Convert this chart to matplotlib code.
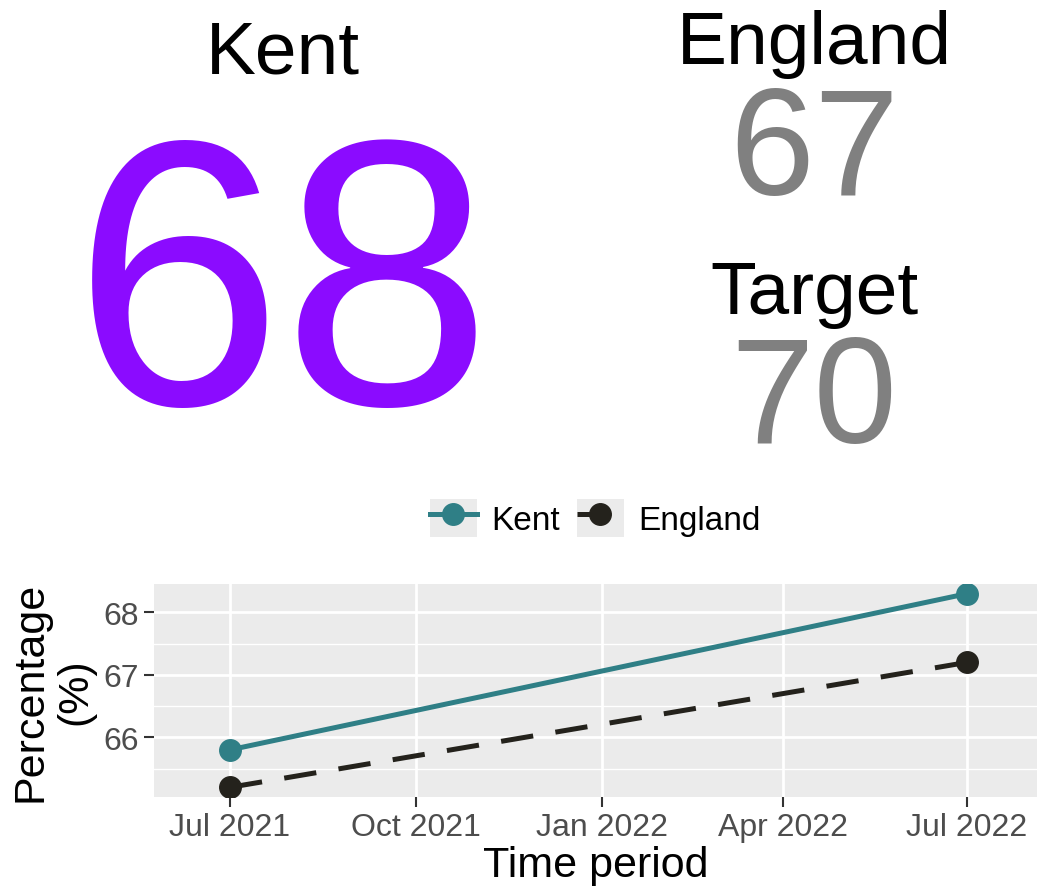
import datetime as dt
import matplotlib
matplotlib.use("Agg")
import matplotlib.dates as mdates
from matplotlib import pyplot as plt
from matplotlib.legend_handler import HandlerTuple
from matplotlib.patches import Rectangle
from matplotlib.ticker import MultipleLocator

plt.rcParams['font.family'] = ['Liberation Sans', 'DejaVu Sans']

# headline values
area_name = "Kent"
area_value = 68
england_value = 67
target_value = 70

# trend data
periods = [dt.date(2021, 7, 1), dt.date(2022, 7, 1)]
kent_pct = [65.8, 68.3]
england_pct = [65.2, 67.2]
tick_dates = [dt.date(2021, 7, 1), dt.date(2021, 10, 1), dt.date(2022, 1, 1),
              dt.date(2022, 4, 1), dt.date(2022, 7, 1)]

W, H = 1037, 887
fig = plt.figure(figsize=(W / 100, H / 100), dpi=100)


def fy(py):
    return 1 - py / H


purple = "#8B0BFF"
grey = "#808080"
fig.text(283 / W, fy(74), area_name, ha='center', va='baseline', fontsize=54)
fig.text(283 / W, fy(404), str(area_value), ha='center', va='baseline',
         fontsize=272, color=purple)
fig.text(814 / W, fy(64), "England", ha='center', va='baseline', fontsize=54)
fig.text(814 / W, fy(195), str(england_value), ha='center', va='baseline',
         fontsize=110, color=grey)
fig.text(814 / W, fy(314), "Target", ha='center', va='baseline', fontsize=54)
fig.text(814 / W, fy(443), str(target_value), ha='center', va='baseline',
         fontsize=108, color=grey)

# trend panel
left, right, top, bottom = 154, 1037, 585, 798
ax = fig.add_axes([left / W, 1 - bottom / H, (right - left) / W, (bottom - top) / H])
ax.set_facecolor("#EBEBEB")
for s in ax.spines.values():
    s.set_visible(False)

teal = "#2F7F86"
dark = "#24221C"
l1, = ax.plot(periods, kent_pct, color=teal, lw=3.6, marker='o', ms=15.5,
              label="Kent", zorder=3)
l2, = ax.plot(periods, england_pct, color=dark, lw=3.6, ls=(0, (6.5, 4.5)),
              marker='o', ms=15.5, label="England", zorder=3)

x0 = mdates.date2num(periods[0])
x1 = mdates.date2num(periods[1])
ppd = (967 - 230) / (x1 - x0)
ax.set_xlim(x0 - (230 - left) / ppd, x1 + (right - 967) / ppd)
ax.set_ylim(65.045, 68.455)

ax.set_xticks(tick_dates)
ax.xaxis.set_major_formatter(mdates.DateFormatter('%b %Y'))
ax.yaxis.set_major_locator(MultipleLocator(1))
ax.yaxis.set_minor_locator(MultipleLocator(0.5))
ax.grid(which='major', color='white', lw=2)
ax.grid(which='minor', axis='y', color='white', lw=1)
ax.set_axisbelow(True)
ax.tick_params(which='major', labelsize=23, labelcolor='#4D4D4D', color='#333333',
               length=7, width=1.5, pad=4)
ax.tick_params(which='minor', length=0)
ax.set_xlabel("Time period", fontsize=31, labelpad=2)
ax.set_ylabel("Percentage\n(%)", fontsize=31, linespacing=1.15)
ax.yaxis.set_label_coords((95 - left) / (right - left), 0.5)

key_bg = [Rectangle((0, 0), 1, 1, facecolor="#EBEBEB", edgecolor='none')
          for _ in range(2)]
leg = ax.legend([(key_bg[0], l1), (key_bg[1], l2)], ["Kent", "England"],
                handler_map={tuple: HandlerTuple(ndivide=1, pad=0)},
                loc='center', bbox_to_anchor=(0.5, 1 + (585 - 519) / (bottom - top)),
                ncol=2, frameon=False, fontsize=24, handlelength=1.4,
                handleheight=1.4, handletextpad=0.45, columnspacing=0.5,
                borderpad=0, borderaxespad=0)

fig.savefig("out.png", dpi=100)
